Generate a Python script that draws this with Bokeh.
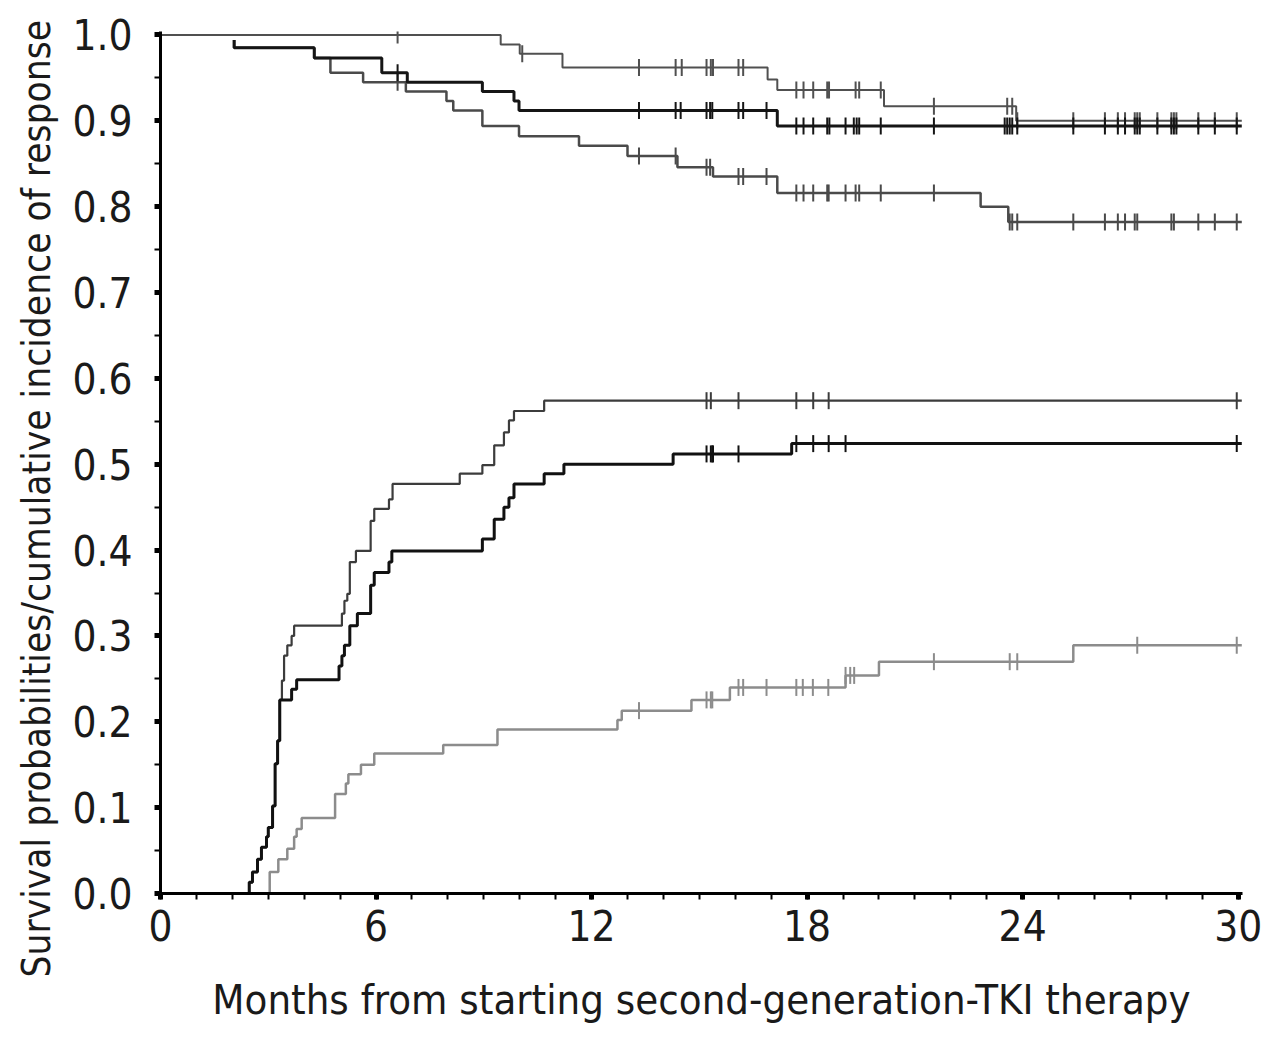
import numpy as np
from bokeh.plotting import figure
from bokeh.models import Range1d, FixedTicker, NumeralTickFormatter, Title
from bokeh.embed import file_html
from bokeh.resources import INLINE

# ---------------- data ----------------
# Survival curves (months, probability) - step functions
s1_t = [0.0, 9.47, 10.0, 11.19, 16.9, 17.17, 20.14, 23.82, 30.1]
s1_v = [1.0, 0.989, 0.978, 0.962, 0.948, 0.936, 0.917, 0.900, 0.900]
s1_cens = [6.6, 10.07, 13.32, 14.34, 14.51, 15.2, 15.32, 15.38, 16.09, 16.22,
           17.70, 17.90, 18.17, 18.56, 18.61, 19.35, 19.45, 20.05, 21.53, 23.57,
           23.71, 23.85, 25.41, 26.29, 26.65, 26.85, 27.12, 27.19, 27.26, 27.75,
           28.14, 28.21, 28.28, 28.89, 29.35, 29.96]

s2_t = [2.05, 2.05, 4.28, 6.16, 6.87, 8.96, 9.84, 9.98, 17.17, 30.1]
s2_v = [0.994, 0.985, 0.973, 0.956, 0.945, 0.934, 0.923, 0.912, 0.894, 0.894]
s2_cens = [6.6, 13.32, 14.34, 14.48, 15.2, 15.3, 15.36, 16.09, 16.22, 16.87,
           17.70, 17.90, 18.17, 18.56, 18.62, 19.07, 19.30, 19.38, 19.45, 20.05,
           21.53, 23.50, 23.57, 23.64, 23.71, 23.85, 25.41, 26.29, 26.65, 26.85,
           27.12, 27.19, 27.26, 27.75, 28.14, 28.21, 28.28, 28.89, 29.35, 29.96]

s3_t = [2.05, 2.05, 4.28, 4.73, 5.64, 6.83, 7.96, 8.15, 8.96, 9.98, 11.65,
        13.0, 14.39, 15.38, 17.17, 22.83, 23.6, 30.1]
s3_v = [0.994, 0.985, 0.973, 0.956, 0.945, 0.934, 0.923, 0.912, 0.894, 0.882,
        0.871, 0.859, 0.846, 0.835, 0.816, 0.800, 0.782, 0.782]
s3_cens = [6.6, 13.32, 14.34, 15.2, 15.3, 16.09, 16.22, 16.87, 17.70, 17.90,
           18.17, 18.56, 18.60, 19.07, 19.35, 19.45, 20.05, 21.53, 23.64, 23.71,
           23.85, 25.41, 26.29, 26.65, 26.85, 27.12, 27.19, 28.14, 28.21, 28.89,
           29.35, 29.96]

# Cumulative incidence curves
a_t = [2.47, 2.47, 2.56, 2.70, 2.81, 2.95, 3.0, 3.12, 3.19, 3.26, 3.32, 3.38,
       3.44, 3.53, 3.65, 3.72, 5.05, 5.12, 5.20, 5.27, 5.44, 5.85, 5.95, 6.36,
       6.46, 8.33, 8.96, 9.29, 9.56, 9.70, 9.84, 10.68, 30.1]
a_v = [0.0, 0.013, 0.025, 0.040, 0.054, 0.066, 0.077, 0.102, 0.151, 0.178,
       0.2255, 0.248, 0.277, 0.289, 0.300, 0.312, 0.326, 0.341, 0.349, 0.386,
       0.399, 0.434, 0.448, 0.459, 0.477, 0.489, 0.499, 0.522, 0.537, 0.551,
       0.562, 0.574, 0.574]
a_cens = [15.2, 15.32, 16.09, 17.70, 18.17, 18.60, 29.96]

b_t = [2.47, 2.47, 2.56, 2.70, 2.81, 2.95, 3.0, 3.12, 3.19, 3.26, 3.32, 3.65,
       3.79, 4.97, 5.05, 5.12, 5.27, 5.48, 5.85, 5.95, 6.36, 6.44, 8.96, 9.29,
       9.56, 9.70, 9.84, 10.68, 11.23, 14.27, 17.57, 30.1]
b_v = [0.0, 0.013, 0.025, 0.040, 0.054, 0.066, 0.077, 0.102, 0.151, 0.178,
       0.2255, 0.238, 0.249, 0.265, 0.277, 0.289, 0.312, 0.326, 0.359, 0.374,
       0.386, 0.399, 0.413, 0.436, 0.450, 0.461, 0.477, 0.489, 0.500, 0.512,
       0.524, 0.524]
b_cens = [15.2, 15.32, 15.36, 15.38, 16.09, 17.70, 18.17, 18.60, 19.07, 29.96]

c_t = [3.04, 3.04, 3.28, 3.53, 3.72, 3.79, 3.93, 4.86, 5.16, 5.23, 5.58, 5.95,
       7.87, 9.38, 12.72, 12.84, 14.78, 15.85, 19.07, 20.0, 25.41, 30.1]
c_v = [0.0, 0.025, 0.040, 0.052, 0.066, 0.075, 0.088, 0.116, 0.128, 0.139,
       0.150, 0.163, 0.173, 0.191, 0.202, 0.213, 0.2255, 0.240, 0.254, 0.270,
       0.289, 0.289]
c_cens = [13.32, 15.2, 15.32, 15.36, 16.09, 16.22, 16.87, 17.70, 17.88, 18.16,
          18.59, 19.07, 19.20, 19.31, 21.53, 23.64, 23.85, 27.19, 29.96]

x_ticks = [0, 6, 12, 18, 24, 30]
x_minor = list(range(0, 31))
y_ticks = [0.0, 0.1, 0.2, 0.3, 0.4, 0.5, 0.6, 0.7, 0.8, 0.9, 1.0]
y_minor = [0.05, 0.15, 0.25, 0.35, 0.45, 0.55, 0.65, 0.75, 0.85, 0.95]

x_title = "Months from starting second-generation-TKI therapy"
y_title = "Survival probabilities/cumulative incidence of response"

FONT = "DejaVu Sans Condensed"

# ---------------- figure ----------------
p = figure(frame_width=1082, frame_height=862,
           min_border_left=158, min_border_right=30,
           min_border_top=31, min_border_bottom=155,
           x_range=Range1d(0, 30.12), y_range=Range1d(0, 1.004),
           output_backend="svg", toolbar_location=None)
p.outline_line_color = None
p.xgrid.visible = False
p.ygrid.visible = False
p.background_fill_color = "white"
p.border_fill_color = "white"


def levels(t, v, c):
    t = np.asarray(t)
    v = np.asarray(v)
    idx = np.searchsorted(t, np.asarray(c), side="right") - 1
    return v[idx]


curves = [
    (s1_t, s1_v, s1_cens, "#505050", 2.0),
    (s3_t, s3_v, s3_cens, "#4a4a4a", 2.5),
    (s2_t, s2_v, s2_cens, "#151515", 3.0),
    (c_t, c_v, c_cens, "#8c8c8c", 2.5),
    (a_t, a_v, a_cens, "#3c3c3c", 2.2),
    (b_t, b_v, b_cens, "#111111", 3.0),
]

for t, v, cens, col, lw in curves:
    p.step(t, v, mode="after", line_color=col, line_width=lw)
    p.scatter(cens, levels(t, v, cens), marker="dash", angle=np.pi / 2,
              size=17, line_color=col, line_width=2)

# ---------------- axes ----------------
for ax in (p.xaxis[0], p.yaxis[0]):
    ax.axis_line_width = 3
    ax.axis_line_color = "black"
    ax.major_tick_in = 0
    ax.major_tick_out = 6
    ax.major_tick_line_width = 5
    ax.minor_tick_in = 0
    ax.minor_tick_out = 6
    ax.minor_tick_line_width = 2
    ax.major_label_text_font = FONT
    ax.major_label_text_font_size = "42px"
    ax.major_label_text_color = "#1a1a1a"

p.xaxis.ticker = FixedTicker(ticks=x_ticks, minor_ticks=x_minor)
p.yaxis.ticker = FixedTicker(ticks=y_ticks, minor_ticks=y_minor)
p.yaxis.formatter = NumeralTickFormatter(format="0.0")
p.xaxis.major_label_standoff = 10
p.yaxis.major_label_standoff = 22

p.xaxis.axis_label = x_title
p.xaxis.axis_label_text_font = FONT
p.xaxis.axis_label_text_font_size = "41.5px"
p.xaxis.axis_label_text_font_style = "normal"
p.xaxis.axis_label_text_color = "#1a1a1a"
p.xaxis.axis_label_standoff = 31

ytitle = Title(text=y_title, align="left", offset=-84,
               text_font=FONT, text_font_size="38.5px",
               text_font_style="normal", text_color="#1a1a1a", standoff=22)
p.add_layout(ytitle, "left")

open("out.html", "w").write(file_html(p, INLINE))
